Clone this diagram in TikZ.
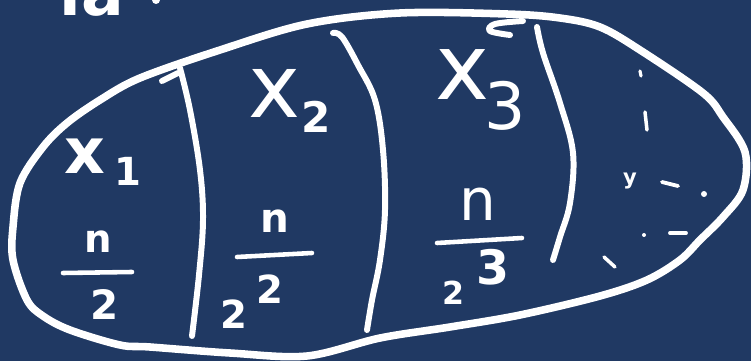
\documentclass[tikz,border=0pt]{standalone}
\usepackage{fontspec}
\setmainfont{DejaVu Sans}
\definecolor{bgblue}{RGB}{32,57,99}
\tikzset{
  chalk/.style={draw=white, line width=4.3pt, line cap=round, line join=round},
  divider/.style={draw=white, line width=3.4pt, line cap=round, line join=round},
  tick/.style={draw=white, line width=2.6pt, line cap=round},
  lbl/.style={text=white, inner sep=0pt, anchor=center},
}
\begin{document}
\begin{tikzpicture}[x=0.02cm,y=-0.02cm]
\useasboundingbox (0,0) rectangle (751,361);
\fill[bgblue] (0,0) rectangle (751,361);
\begin{scope}
\clip (0,0) rectangle (751,361);
% cut-off writing at the top
\node[lbl, anchor=base] (top) at (92,16) {\fontsize{36}{36}\selectfont\bfseries ia};
\fill[white] (156,0) circle (4);
% outline
\draw[chalk] plot[smooth cycle, tension=0.55] coordinates {
 (140,78) (220,50) (307,24) (400,13) (507,14) (560,18) (600,27) (640,50)
 (703,93) (723,117) (745,152) (743,190) (723,217) (700,240) (680,260)
 (647,280) (600,296) (520,315) (450,327) (380,338) (307,356) (230,353)
 (150,347) (120,345) (70,330) (43,316) (27,300) (13,260) (13,227)
 (20,183) (43,147) (67,123) (100,100)};
% dividers
\draw[divider] plot[smooth, tension=0.6] coordinates {
 (180,68) (190,110) (200,170) (203,220) (199,275) (192,336)};
\draw[divider] (162,81) -- (178,73);
\draw[divider] plot[smooth, tension=0.6] coordinates {
 (333,33) (342,37) (358,65) (375,100) (383,150) (385,210) (380,260) (372,300) (367,330)};
\draw[divider] plot[smooth, tension=0.6] coordinates {
 (537,27) (543,53) (560,103) (573,153) (570,203) (560,237) (553,260)};
\draw[divider] plot[smooth, tension=0.6] coordinates {
 (510,35) (490,31) (495,24) (523,21)};
% labels, column 1
\node[lbl] (x1) at (85,156) {\fontsize{36}{36}\selectfont\bfseries x};
\node[lbl] (s1) at (128,171) {\fontsize{22}{22}\selectfont\bfseries 1};
\node[lbl] (n1) at (98,242) {\fontsize{22}{22}\selectfont\bfseries n};
\draw[tick] (63,273) -- (132,272);
\node[lbl] (d1) at (105,305) {\fontsize{23}{23}\selectfont\bfseries 2};
% column 2
\node[lbl] (x2) at (274,93) {\fontsize{50}{50}\selectfont x};
\node[lbl] (s2) at (316,117) {\fontsize{24}{24}\selectfont\bfseries 2};
\node[lbl] (n2) at (275,221) {\fontsize{23}{23}\selectfont\bfseries n};
\draw[tick] (237,257) -- (312,253);
\node[lbl] (d2) at (234,314) {\fontsize{22}{22}\selectfont\bfseries 2};
\node[lbl] (e2) at (270,289) {\fontsize{22}{22}\selectfont\bfseries 2};
% column 3
\node[lbl] (x3) at (463,75) {\fontsize{52}{52}\selectfont x};
\node[lbl] (s3) at (505,106) {\fontsize{37}{37}\selectfont 3};
\node[lbl] (n3) at (478,204) {\fontsize{33}{33}\selectfont n};
\draw[tick] (437,243) -- (522,238);
\node[lbl] (d3) at (453,293) {\fontsize{18}{18}\selectfont\bfseries 2};
\node[lbl] (e3) at (493,267) {\fontsize{27}{27}\selectfont\bfseries 3};
% dots in the last part
\draw[tick, line width=1.8pt] (640,71) -- (641,76);
\draw[tick, line width=2pt] (645,112) -- (647,130);
\node[lbl] (y4) at (630,181) {\fontsize{12}{12}\selectfont\bfseries y};
\draw[tick, line width=2.2pt] (662,182) -- (678,186);
\fill[white] (704,194) circle (3);
\fill[white] (644,235) circle (2);
\draw[tick, line width=2.2pt] (670,233) -- (686,233);
\draw[tick, line width=2pt] (604,257) -- (615,267);
\end{scope}
\end{tikzpicture}
\end{document}
